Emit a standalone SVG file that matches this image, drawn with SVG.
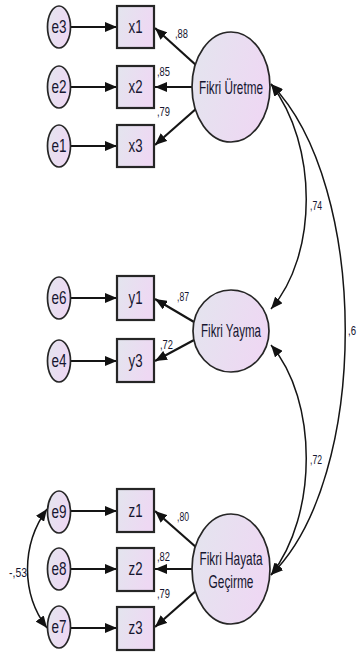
<svg xmlns="http://www.w3.org/2000/svg" width="358" height="657" viewBox="0 0 358 657">
  <defs>
    <linearGradient id="fillGrad" x1="0" y1="0" x2="1" y2="0.3">
      <stop offset="0" stop-color="#e3e5ee"/>
      <stop offset="1" stop-color="#eed8f3"/>
    </linearGradient>
    <marker id="head" viewBox="0 0 12 10" refX="12" refY="5" markerWidth="12" markerHeight="10" markerUnits="userSpaceOnUse" orient="auto-start-reverse">
      <path d="M0,0 L12,5 L0,10 Z" fill="#111"/>
    </marker>
    <style>
      .shape { fill: url(#fillGrad); stroke: #262626; stroke-width: 1.7; }
      .box { fill: url(#fillGrad); stroke: #262626; stroke-width: 2.2; }
      .lbl { font-family: "Liberation Sans", Arial, sans-serif; fill: #161630; text-anchor: middle; }
      .node { font-size: 18px; }
      .latent { font-size: 19px; }
      .coef { font-family: "Liberation Sans", Arial, sans-serif; font-size: 13px; fill: #161630; }
      .arrow { fill: none; stroke: #151515; stroke-width: 2.2; marker-end: url(#head); }
      .cov { fill: none; stroke: #151515; stroke-width: 1.5; marker-start: url(#head); marker-end: url(#head); }
    </style>
  </defs>

  <!-- connectors -->
  <g id="connectors">
    <!-- error terms to indicators -->
    <line class="arrow" x1="71" y1="27" x2="117" y2="27"/>
    <line class="arrow" x1="71" y1="87" x2="117" y2="87"/>
    <line class="arrow" x1="71" y1="146" x2="117" y2="146"/>
    <line class="arrow" x1="71" y1="298" x2="117" y2="298"/>
    <line class="arrow" x1="71" y1="361" x2="117" y2="361"/>
    <line class="arrow" x1="71" y1="511" x2="117" y2="511"/>
    <line class="arrow" x1="71" y1="569" x2="117" y2="569"/>
    <line class="arrow" x1="71" y1="628" x2="117" y2="628"/>

    <!-- factor loadings -->
    <line class="arrow" x1="197" y1="66" x2="155" y2="28"/>
    <line class="arrow" x1="192" y1="87" x2="155" y2="87"/>
    <line class="arrow" x1="197" y1="108" x2="155" y2="145"/>
    <line class="arrow" x1="194" y1="322" x2="155" y2="299"/>
    <line class="arrow" x1="194" y1="340" x2="155" y2="361"/>
    <line class="arrow" x1="197" y1="548" x2="155" y2="511"/>
    <line class="arrow" x1="192" y1="569" x2="155" y2="569"/>
    <line class="arrow" x1="197" y1="590" x2="155" y2="627"/>

    <!-- factor covariances -->
    <path class="cov" d="M271,84 C318,145 318,255 271,309"/>
    <path class="cov" d="M271,345 C318,400 318,515 271,575"/>
    <path class="cov" d="M271,84 C370,185 370,478 271,575"/>

    <!-- error covariance -->
    <path class="cov" d="M47,509 C21,545 21,594 47,628"/>

    <!-- coefficients -->
    <text class="coef" x="175" y="38" textLength="13" lengthAdjust="spacingAndGlyphs">,88</text>
    <text class="coef" x="157" y="76" textLength="13" lengthAdjust="spacingAndGlyphs">,85</text>
    <text class="coef" x="157" y="116" textLength="13" lengthAdjust="spacingAndGlyphs">,79</text>
    <text class="coef" x="177" y="301" textLength="12" lengthAdjust="spacingAndGlyphs">,87</text>
    <text class="coef" x="160" y="349" textLength="13" lengthAdjust="spacingAndGlyphs">,72</text>
    <text class="coef" x="177" y="521" textLength="12" lengthAdjust="spacingAndGlyphs">,80</text>
    <text class="coef" x="157" y="561" textLength="13" lengthAdjust="spacingAndGlyphs">,82</text>
    <text class="coef" x="157" y="598" textLength="13" lengthAdjust="spacingAndGlyphs">,79</text>
    <text class="coef" x="310" y="210" textLength="12" lengthAdjust="spacingAndGlyphs">,74</text>
    <text class="coef" x="310" y="464" textLength="12" lengthAdjust="spacingAndGlyphs">,72</text>
    <text class="coef" x="348" y="335" textLength="8" lengthAdjust="spacingAndGlyphs">,6</text>
    <text class="coef" x="9" y="577" textLength="18" lengthAdjust="spacingAndGlyphs">-,53</text>
  </g>

  <!-- latent factors -->
  <g id="fikri-uretme">
    <ellipse class="shape" cx="231" cy="87" rx="39" ry="55"/>
    <text class="lbl latent" x="231" y="94" textLength="64" lengthAdjust="spacingAndGlyphs">Fikri Üretme</text>
  </g>
  <g id="fikri-yayma">
    <ellipse class="shape" cx="231" cy="331" rx="38" ry="41"/>
    <text class="lbl latent" x="231" y="337" textLength="60" lengthAdjust="spacingAndGlyphs">Fikri Yayma</text>
  </g>
  <g id="fikri-hayata-gecirme">
    <ellipse class="shape" cx="231" cy="569" rx="39" ry="55"/>
    <text class="lbl latent" x="231" y="565" textLength="63" lengthAdjust="spacingAndGlyphs">Fikri Hayata</text>
    <text class="lbl latent" x="231" y="588" textLength="45" lengthAdjust="spacingAndGlyphs">Geçirme</text>
  </g>

  <!-- observed indicators -->
  <g id="x1"><rect class="box" x="117" y="6" width="37" height="42"/><text class="lbl node" x="135.5" y="33" textLength="14" lengthAdjust="spacingAndGlyphs">x1</text></g>
  <g id="x2"><rect class="box" x="117" y="66" width="37" height="42"/><text class="lbl node" x="135.5" y="93" textLength="14" lengthAdjust="spacingAndGlyphs">x2</text></g>
  <g id="x3"><rect class="box" x="117" y="125" width="37" height="42"/><text class="lbl node" x="135.5" y="152" textLength="14" lengthAdjust="spacingAndGlyphs">x3</text></g>
  <g id="y1"><rect class="box" x="117" y="276" width="37" height="44"/><text class="lbl node" x="135.5" y="304" textLength="14" lengthAdjust="spacingAndGlyphs">y1</text></g>
  <g id="y3"><rect class="box" x="117" y="339" width="37" height="43"/><text class="lbl node" x="135.5" y="367" textLength="14" lengthAdjust="spacingAndGlyphs">y3</text></g>
  <g id="z1"><rect class="box" x="117" y="489" width="37" height="43"/><text class="lbl node" x="135.5" y="517" textLength="14" lengthAdjust="spacingAndGlyphs">z1</text></g>
  <g id="z2"><rect class="box" x="117" y="548" width="37" height="43"/><text class="lbl node" x="135.5" y="575" textLength="14" lengthAdjust="spacingAndGlyphs">z2</text></g>
  <g id="z3"><rect class="box" x="117" y="607" width="37" height="43"/><text class="lbl node" x="135.5" y="634" textLength="14" lengthAdjust="spacingAndGlyphs">z3</text></g>

  <!-- error terms -->
  <g id="e3"><ellipse class="shape" cx="59" cy="27" rx="11.5" ry="21"/><text class="lbl node" x="59" y="33" textLength="15" lengthAdjust="spacingAndGlyphs">e3</text></g>
  <g id="e2"><ellipse class="shape" cx="59" cy="87" rx="11.5" ry="21"/><text class="lbl node" x="59" y="93" textLength="15" lengthAdjust="spacingAndGlyphs">e2</text></g>
  <g id="e1"><ellipse class="shape" cx="59" cy="146" rx="11.5" ry="21"/><text class="lbl node" x="59" y="152" textLength="15" lengthAdjust="spacingAndGlyphs">e1</text></g>
  <g id="e6"><ellipse class="shape" cx="59" cy="298" rx="11.5" ry="21"/><text class="lbl node" x="59" y="304" textLength="15" lengthAdjust="spacingAndGlyphs">e6</text></g>
  <g id="e4"><ellipse class="shape" cx="59" cy="361" rx="11.5" ry="21"/><text class="lbl node" x="59" y="367" textLength="15" lengthAdjust="spacingAndGlyphs">e4</text></g>
  <g id="e9"><ellipse class="shape" cx="59" cy="512" rx="11.5" ry="21"/><text class="lbl node" x="59" y="518" textLength="15" lengthAdjust="spacingAndGlyphs">e9</text></g>
  <g id="e8"><ellipse class="shape" cx="59" cy="569" rx="11.5" ry="21"/><text class="lbl node" x="59" y="575" textLength="15" lengthAdjust="spacingAndGlyphs">e8</text></g>
  <g id="e7"><ellipse class="shape" cx="59" cy="627" rx="11.5" ry="21"/><text class="lbl node" x="59" y="633" textLength="15" lengthAdjust="spacingAndGlyphs">e7</text></g>
</svg>
